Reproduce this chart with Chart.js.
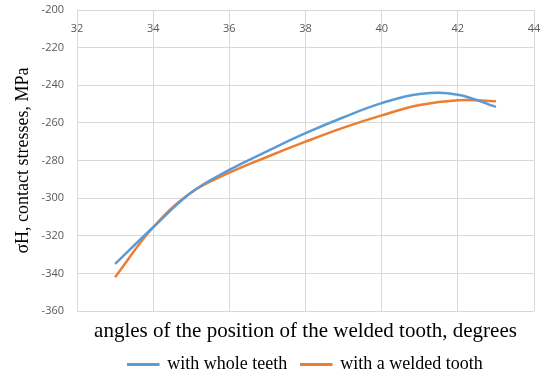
<!DOCTYPE html>
<html>
<head>
<meta charset="utf-8">
<script src="https://cdn.jsdelivr.net/npm/chart.js@4"></script>
<style>
  html, body { margin: 0; padding: 0; background: #fff; }
  #wrap { width: 553px; height: 378px; }
</style>
</head>
<body>
<div id="wrap"><canvas id="myChart"></canvas></div>
<script>
const angles = [33, 34, 35, 36, 37, 38, 39, 40, 41, 42, 43];
const wholeTeeth = [-335, -315.5, -297, -285, -275, -265.5, -257, -249.5, -244.6, -245, -251.5];
const weldedTooth = [-342, -315.5, -297, -286.5, -278, -270, -262.5, -256, -250.5, -248, -248.5];
const xTicks = [32, 34, 36, 38, 40, 42, 44];
const yTicks = [-200, -220, -240, -260, -280, -300, -320, -340, -360];

const serif = '"Liberation Serif", "Times New Roman", serif';
const sans = '"Open Sans", "Liberation Sans", sans-serif';

const toPoints = (xs, ys) => xs.map((x, i) => ({ x: x, y: ys[i] }));

const chartElement = document.getElementById('myChart');
new Chart(chartElement, {
    type: 'line',
    data: {
        datasets: [{
            label: 'with whole teeth',
            data: toPoints(angles, wholeTeeth),
            borderColor: '#5b9bd5',
            backgroundColor: '#5b9bd5',
            borderWidth: 2.5,
            pointRadius: 0,
            tension: 0.4
        }, {
            label: 'with a welded tooth',
            data: toPoints(angles, weldedTooth),
            borderColor: '#ed7d31',
            backgroundColor: '#ed7d31',
            borderWidth: 2.5,
            pointRadius: 0,
            tension: 0.4
        }]
    },
    options: {
        responsive: true,
        maintainAspectRatio: false,
        animation: false,
        layout: { padding: { left: 0, right: 19, top: 10, bottom: -5.5 } },
        scales: {
            x: {
                type: 'linear',
                position: { y: -200 },
                min: xTicks[0],
                max: xTicks[xTicks.length - 1],
                afterBuildTicks: (scale) => { scale.ticks = xTicks.map(v => ({ value: v })); },
                afterFit: (scale) => { scale.paddingTop = 0; },
                grid: { color: '#d9d9d9', drawTicks: false },
                border: { color: '#d9d9d9' },
                ticks: { padding: 12, color: '#595959', font: { family: sans, size: 11 } }
            },
            y: {
                min: yTicks[yTicks.length - 1],
                max: yTicks[0],
                afterBuildTicks: (scale) => { scale.ticks = yTicks.map(v => ({ value: v })); },
                afterFit: (scale) => { scale.width = 77; scale.paddingTop = 0; },
                grid: { color: '#d9d9d9', drawTicks: false },
                border: { color: '#d9d9d9' },
                ticks: { padding: 13, color: '#595959', font: { family: sans, size: 11 } },
                title: {
                    display: true,
                    text: 'σH, contact stresses, MPa',
                    color: '#000',
                    padding: { top: 12, bottom: 0 },
                    font: { family: serif, size: 18 }
                }
            }
        },
        plugins: {
            title: {
                display: true,
                text: 'angles of the position of the welded tooth, degrees',
                position: 'bottom',
                weight: 500,
                fullSize: false,
                color: '#000',
                padding: { top: 9.5, bottom: 0 },
                font: { family: serif, size: 21, weight: 'normal', lineHeight: 1 }
            },
            legend: {
                position: 'bottom',
                fullSize: false,
                weight: 1000,
                labels: {
                    boxWidth: 30,
                    boxHeight: 0.5,
                    padding: 14,
                    color: '#000',
                    font: { family: serif, size: 18 }
                }
            },
            tooltip: { enabled: false }
        }
    }
});
</script>
</body>
</html>
